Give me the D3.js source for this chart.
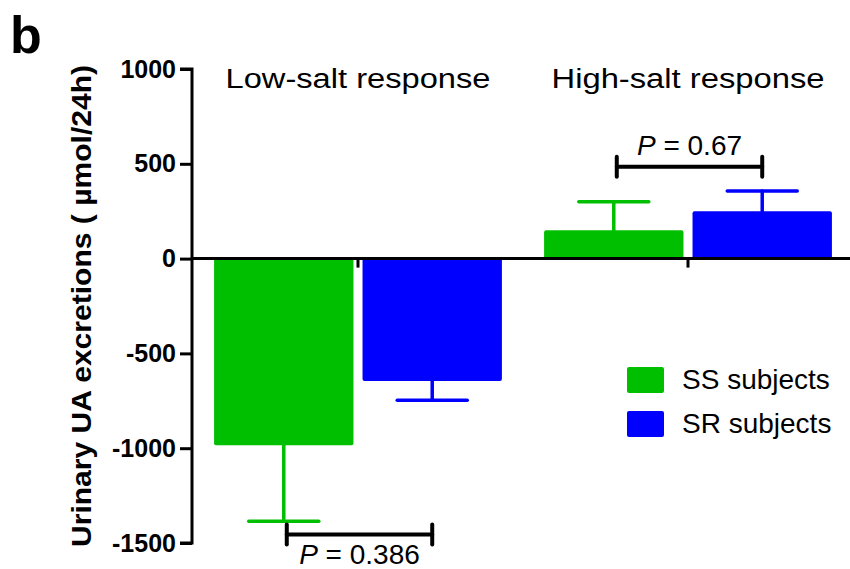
<!DOCTYPE html>
<html>
<head>
<meta charset="utf-8">
<script src="https://cdn.jsdelivr.net/npm/d3@7"></script>
<style>
  body { margin: 0; background: #fff; }
  text { font-family: Arial, "Liberation Sans", sans-serif; }
</style>
</head>
<body>
<svg id="chart" width="850" height="569"></svg>
<script>
// data
const responses = ["Low-salt response", "High-salt response"];
const groups = ["SS subjects", "SR subjects"];
const means = [[-985, -645], [150, 250]];   // [response][group]
const sems  = [[400, 102], [150, 106]];
const pLabels = ["0.386", "0.67"];
const pLevels = [-1455, 485];              // y value of each bracket
const yTicks = [1000, 500, 0, -500, -1000, -1500];

const colors = { "SS subjects": "#00bf00", "SR subjects": "#0000ff" };

const svg = d3.select("#chart");

const x = d3.scaleBand().domain(responses).range([193, 853]);
const xInner = d3.scaleBand().domain(groups)
    .range([0, x.bandwidth()])
    .paddingInner(0.061)
    .paddingOuter(0.142);
const y = d3.scaleLinear().domain([-1500, 1000]).range([543, 69]);

// bars
const rows = [];
responses.forEach((r, i) => groups.forEach((g, j) => {
    rows.push({ r, g, mean: means[i][j], sem: sems[i][j] });
}));

const cx = d => x(d.r) + xInner(d.g) + xInner.bandwidth() / 2;

svg.append("g").selectAll("rect")
    .data(rows)
    .join("rect")
    .attr("x", d => x(d.r) + xInner(d.g))
    .attr("width", xInner.bandwidth())
    .attr("y", d => d.mean < 0 ? y(0) : y(d.mean))
    .attr("height", d => Math.abs(y(d.mean) - y(0)))
    .attr("rx", 2)
    .attr("fill", d => colors[d.g]);

// error bars (one sided, away from zero)
const err = svg.append("g").attr("stroke-width", 3.5).attr("stroke-linecap", "round");
rows.forEach(d => {
    const end = d.mean < 0 ? d.mean - d.sem : d.mean + d.sem;
    err.append("line")
        .attr("x1", cx(d)).attr("x2", cx(d))
        .attr("y1", y(d.mean)).attr("y2", y(end))
        .attr("stroke", colors[d.g]);
    err.append("line")
        .attr("x1", cx(d) - 35).attr("x2", cx(d) + 35)
        .attr("y1", y(end)).attr("y2", y(end))
        .attr("stroke", colors[d.g]);
});

// axes
const yAxis = svg.append("g")
    .attr("transform", "translate(192,0)")
    .call(d3.axisLeft(y).tickValues(yTicks).tickSize(12).tickPadding(4).tickFormat(d => String(d)));
yAxis.select(".domain").attr("stroke-width", 3).attr("d", `M-12,${y(1000)}H0V${y(-1500)}H-12`);
yAxis.selectAll(".tick line").attr("stroke-width", 3);
yAxis.selectAll("text")
    .attr("font-size", 25).attr("font-weight", "bold").attr("fill", "#000")
    .attr("font-family", "Arial, 'Liberation Sans', sans-serif");

const xAxis = svg.append("g")
    .attr("transform", `translate(0,${y(0)})`)
    .call(d3.axisBottom(x).tickSize(9).tickFormat(""));
xAxis.select(".domain").attr("stroke-width", 3).attr("d", "M192,0H853");
xAxis.selectAll(".tick line").attr("stroke-width", 3);

// group titles
svg.append("g").selectAll("text")
    .data(responses)
    .join("text")
    .attr("x", d => x(d) + x.bandwidth() / 2)
    .attr("y", 88)
    .attr("text-anchor", "middle")
    .attr("font-size", 27)
    .attr("textLength", (d, i) => i === 0 ? 265 : 273)
    .attr("lengthAdjust", "spacingAndGlyphs")
    .text(d => d);

// P value brackets
responses.forEach((r, i) => {
    const x1 = x(r) + xInner(groups[0]) + xInner.bandwidth() / 2 + 3;
    const x2 = x(r) + xInner(groups[1]) + xInner.bandwidth() / 2;
    const yy = y(pLevels[i]);
    const g = svg.append("g").attr("stroke", "#000").attr("stroke-width", 4).attr("stroke-linecap", "round");
    g.append("line").attr("x1", x1).attr("x2", x2).attr("y1", yy).attr("y2", yy);
    g.append("line").attr("x1", x1).attr("x2", x1).attr("y1", yy - 10).attr("y2", yy + 10);
    g.append("line").attr("x1", x2).attr("x2", x2).attr("y1", yy - 10).attr("y2", yy + 10);
    const t = svg.append("text")
        .attr("x", (x1 + x2) / 2)
        .attr("y", i === 0 ? yy + 30 : yy - 12)
        .attr("text-anchor", "middle")
        .attr("font-size", 28);
    t.append("tspan").attr("font-style", "italic").text("P");
    t.append("tspan").text(" = " + pLabels[i]);
});

// legend
const legend = svg.append("g").attr("transform", "translate(627,367)");
groups.forEach((g, i) => {
    legend.append("rect")
        .attr("x", 0).attr("y", i * 44)
        .attr("width", 37).attr("height", 26)
        .attr("rx", 2)
        .attr("fill", colors[g]);
    legend.append("text")
        .attr("x", 55).attr("y", i * 44 + 22)
        .attr("font-size", 28)
        .text(g);
});

// y axis title
svg.append("text")
    .attr("transform", `translate(91,${306}) rotate(-90)`)
    .attr("text-anchor", "middle")
    .attr("font-size", 27)
    .attr("font-weight", "bold")
    .attr("textLength", 482)
    .attr("lengthAdjust", "spacingAndGlyphs")
    .text("Urinary UA excretions ( \u00b5mol/24h)");

// panel letter
svg.append("text")
    .attr("x", 10).attr("y", 53)
    .attr("font-size", 52)
    .attr("font-weight", "bold")
    .text("b");
</script>
</body>
</html>
